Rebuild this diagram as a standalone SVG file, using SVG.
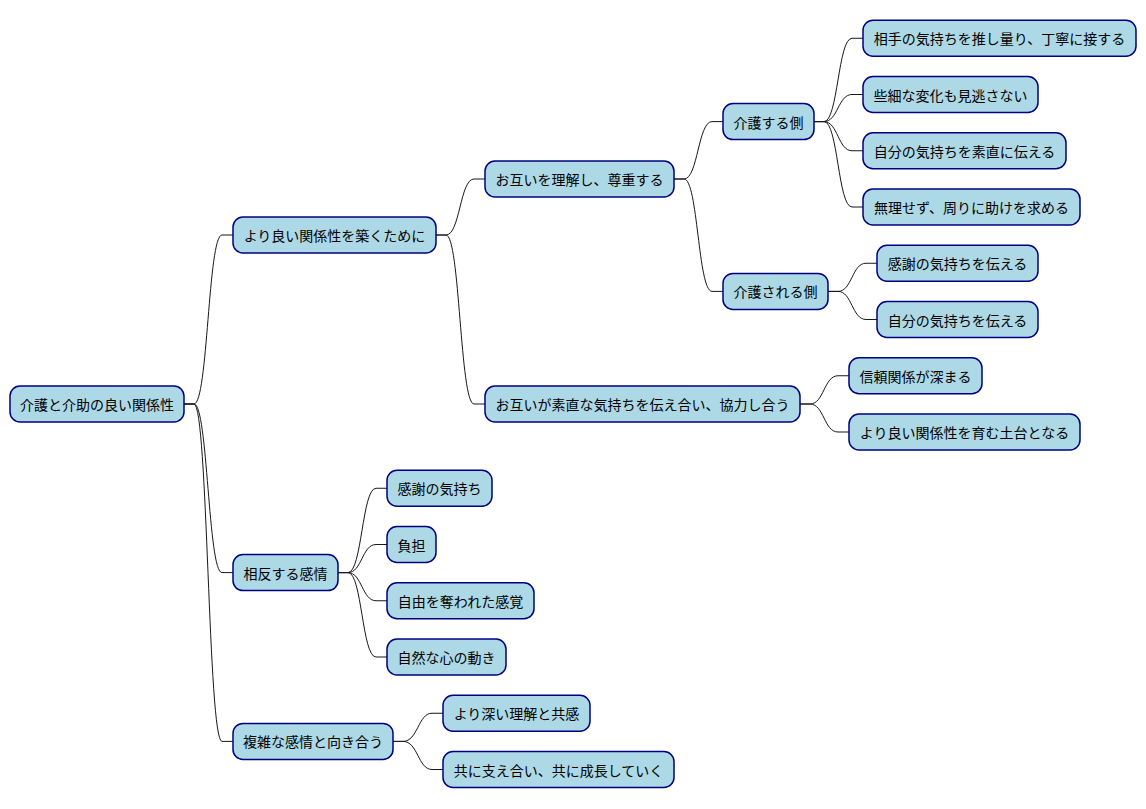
<svg xmlns="http://www.w3.org/2000/svg" width="1146" height="809" viewBox="0 0 1146 809">
<style>
.n rect{fill:#ADD8E6;stroke:#000080;stroke-width:1.5}
.n text{font-family:"Noto Sans CJK JP","Noto Sans",sans-serif;font-size:14px;fill:#000;text-anchor:middle;dominant-baseline:central}
#connectors path{fill:none;stroke:#181818;stroke-width:1}
</style>
<rect width="1146" height="809" fill="#fff"/>
<g id="connectors">
<path d="M184,404 L194,404 C208,404 208,235 222,235 L233,235"/>
<path d="M184,404 L194,404 C208,404 208,572.6 222,572.6 L233,572.6"/>
<path d="M184,404 L194,404 C208,404 208,741.4 222,741.4 L233,741.4"/>
<path d="M436,235 L446,235 C460,235 460,179 474,179 L485,179"/>
<path d="M436,235 L446,235 C460,235 460,404 474,404 L485,404"/>
<path d="M674,179 L684,179 C698,179 698,121.6 712,121.6 L723,121.6"/>
<path d="M674,179 L684,179 C698,179 698,291.4 712,291.4 L723,291.4"/>
<path d="M814,121.6 L824,121.6 C838,121.6 838,38.25 852,38.25 L863,38.25"/>
<path d="M814,121.6 L824,121.6 C838,121.6 838,94.5 852,94.5 L863,94.5"/>
<path d="M814,121.6 L824,121.6 C838,121.6 838,150.75 852,150.75 L863,150.75"/>
<path d="M814,121.6 L824,121.6 C838,121.6 838,207 852,207 L863,207"/>
<path d="M828,291.4 L838,291.4 C852,291.4 852,263.25 866,263.25 L877,263.25"/>
<path d="M828,291.4 L838,291.4 C852,291.4 852,319.5 866,319.5 L877,319.5"/>
<path d="M800,404 L810,404 C824,404 824,375.75 838,375.75 L849,375.75"/>
<path d="M800,404 L810,404 C824,404 824,432 838,432 L849,432"/>
<path d="M338,572.6 L348,572.6 C362,572.6 362,488.25 376,488.25 L387,488.25"/>
<path d="M338,572.6 L348,572.6 C362,572.6 362,544.5 376,544.5 L387,544.5"/>
<path d="M338,572.6 L348,572.6 C362,572.6 362,600.75 376,600.75 L387,600.75"/>
<path d="M338,572.6 L348,572.6 C362,572.6 362,657 376,657 L387,657"/>
<path d="M393,741.4 L403,741.4 C418,741.4 418,713.25 432,713.25 L443,713.25"/>
<path d="M393,741.4 L403,741.4 C418,741.4 418,769.5 432,769.5 L443,769.5"/>
</g>
<g id="n1" class="n"><rect x="10" y="386" width="174" height="36" rx="10"/><text x="97" y="404">介護と介助の良い関係性</text></g>
<g id="n2" class="n"><rect x="233" y="217" width="203" height="36" rx="10"/><text x="334.5" y="235">より良い関係性を築くために</text></g>
<g id="n3" class="n"><rect x="485" y="161" width="189" height="36" rx="10"/><text x="579.5" y="179">お互いを理解し、尊重する</text></g>
<g id="n4" class="n"><rect x="723" y="103.6" width="91" height="36" rx="10"/><text x="768.5" y="121.6">介護する側</text></g>
<g id="n5" class="n"><rect x="863" y="20.25" width="273" height="36" rx="10"/><text x="999.5" y="38.25">相手の気持ちを推し量り、丁寧に接する</text></g>
<g id="n6" class="n"><rect x="863" y="76.5" width="175" height="36" rx="10"/><text x="950.5" y="94.5">些細な変化も見逃さない</text></g>
<g id="n7" class="n"><rect x="863" y="132.75" width="203" height="36" rx="10"/><text x="964.5" y="150.75">自分の気持ちを素直に伝える</text></g>
<g id="n8" class="n"><rect x="863" y="189" width="217" height="36" rx="10"/><text x="971.5" y="207">無理せず、周りに助けを求める</text></g>
<g id="n9" class="n"><rect x="723" y="273.4" width="105" height="36" rx="10"/><text x="775.5" y="291.4">介護される側</text></g>
<g id="n10" class="n"><rect x="877" y="245.25" width="161" height="36" rx="10"/><text x="957.5" y="263.25">感謝の気持ちを伝える</text></g>
<g id="n11" class="n"><rect x="877" y="301.5" width="161" height="36" rx="10"/><text x="957.5" y="319.5">自分の気持ちを伝える</text></g>
<g id="n12" class="n"><rect x="485" y="386" width="315" height="36" rx="10"/><text x="642.5" y="404">お互いが素直な気持ちを伝え合い、協力し合う</text></g>
<g id="n13" class="n"><rect x="849" y="357.75" width="133" height="36" rx="10"/><text x="915.5" y="375.75">信頼関係が深まる</text></g>
<g id="n14" class="n"><rect x="849" y="414" width="231" height="36" rx="10"/><text x="964.5" y="432">より良い関係性を育む土台となる</text></g>
<g id="n15" class="n"><rect x="233" y="554.6" width="105" height="36" rx="10"/><text x="285.5" y="572.6">相反する感情</text></g>
<g id="n16" class="n"><rect x="387" y="470.25" width="105" height="36" rx="10"/><text x="439.5" y="488.25">感謝の気持ち</text></g>
<g id="n17" class="n"><rect x="387" y="526.5" width="49" height="36" rx="10"/><text x="411.5" y="544.5">負担</text></g>
<g id="n18" class="n"><rect x="387" y="582.75" width="147" height="36" rx="10"/><text x="460.5" y="600.75">自由を奪われた感覚</text></g>
<g id="n19" class="n"><rect x="387" y="639" width="119" height="36" rx="10"/><text x="446.5" y="657">自然な心の動き</text></g>
<g id="n20" class="n"><rect x="233" y="723.4" width="160" height="36" rx="10"/><text x="313" y="741.4">複雑な感情と向き合う</text></g>
<g id="n21" class="n"><rect x="443" y="695.25" width="147" height="36" rx="10"/><text x="516.5" y="713.25">より深い理解と共感</text></g>
<g id="n22" class="n"><rect x="443" y="751.5" width="231" height="36" rx="10"/><text x="558.5" y="769.5">共に支え合い、共に成長していく</text></g>
</svg>
